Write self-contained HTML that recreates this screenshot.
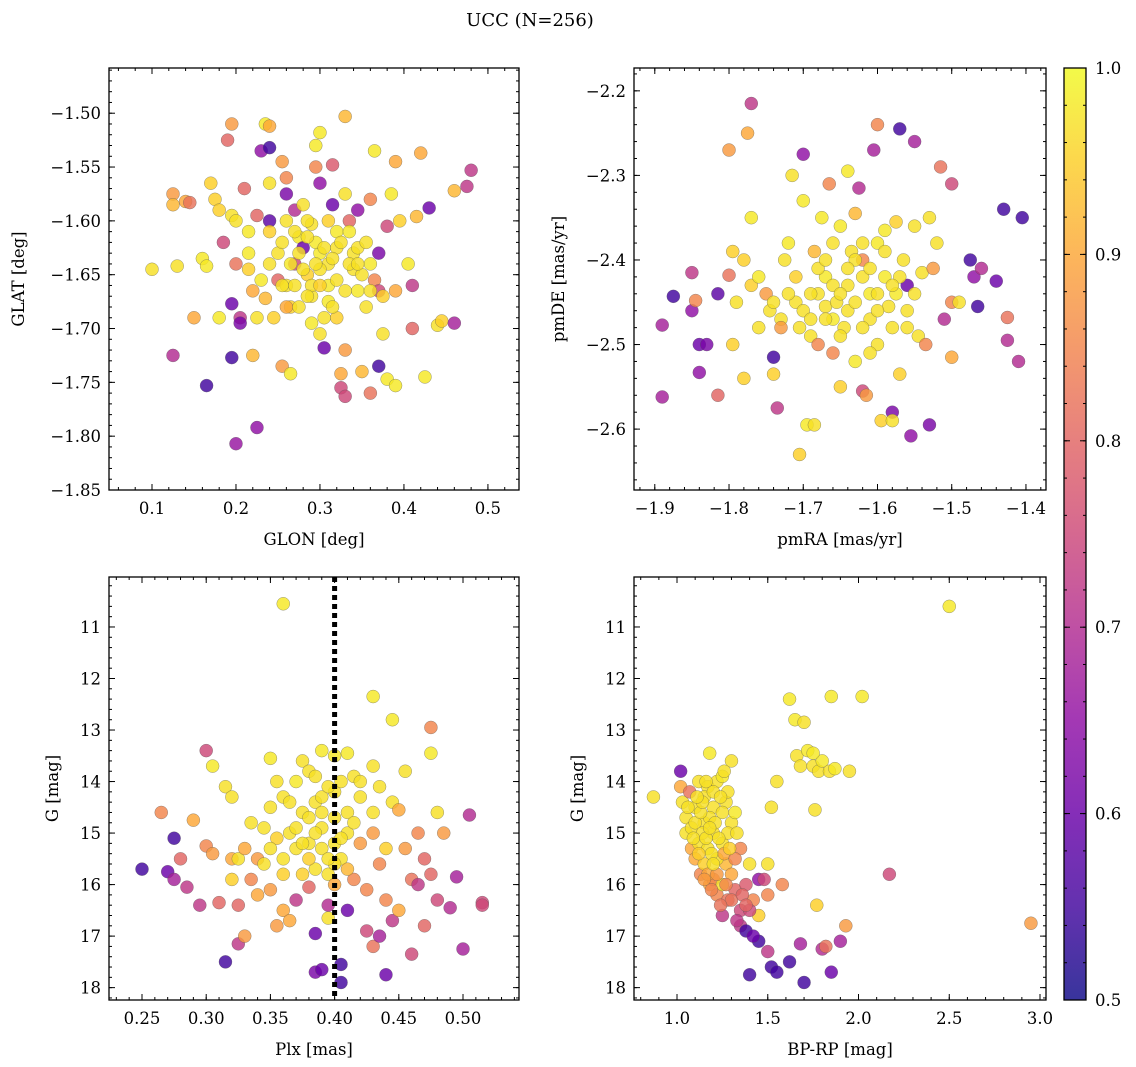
<!DOCTYPE html>
<html><head><meta charset="utf-8"><style>
html,body{margin:0;padding:0;background:#fff;}
svg{display:block;font-family:"DejaVu Serif","Liberation Serif",serif;}
</style></head><body>
<svg id="fig" width="1136" height="1067" viewBox="0 0 1136 1067" xmlns="http://www.w3.org/2000/svg">
<text x="530" y="26" font-size="18" text-anchor="middle">UCC (N=256)</text>
</svg>
<script>
// ---- data (x, y, membership probability) ----
const glonGlat = [[0.10,-1.645,.97],[0.13,-1.642,.97],[0.125,-1.575,.88],[0.125,-1.585,.92],[0.14,-1.582,.9],[0.145,-1.583,.82],[0.125,-1.725,.7],[0.15,-1.69,.9],[0.16,-1.635,.98],[0.165,-1.642,.98],[0.165,-1.753,.55],[0.17,-1.565,.95],[0.175,-1.58,.95],[0.18,-1.59,.95],[0.185,-1.62,.75],[0.18,-1.69,.98],[0.19,-1.525,.8],[0.195,-1.51,.88],[0.195,-1.595,.97],[0.195,-1.727,.55],[0.195,-1.677,.6],[0.2,-1.6,.97],[0.2,-1.64,.82],[0.2,-1.807,.66],[0.205,-1.69,.72],[0.205,-1.695,.62],[0.21,-1.57,.8],[0.215,-1.61,.98],[0.215,-1.63,.98],[0.215,-1.645,.95],[0.22,-1.725,.92],[0.22,-1.665,.9],[0.225,-1.792,.65],[0.225,-1.595,.8],[0.225,-1.69,.97],[0.23,-1.535,.65],[0.235,-1.51,.98],[0.24,-1.512,.9],[0.24,-1.532,.55],[0.24,-1.565,.97],[0.24,-1.6,.58],[0.24,-1.61,.95],[0.245,-1.69,.95],[0.25,-1.63,.97],[0.25,-1.655,.8],[0.255,-1.545,.88],[0.255,-1.735,.88],[0.26,-1.56,.85],[0.26,-1.575,.62],[0.26,-1.6,.97],[0.26,-1.66,.97],[0.265,-1.742,.98],[0.265,-1.68,.95],[0.27,-1.59,.7],[0.27,-1.64,.75],[0.275,-1.615,.98],[0.28,-1.585,.97],[0.28,-1.625,.6],[0.285,-1.65,.95],[0.29,-1.67,.97],[0.29,-1.695,.98],[0.29,-1.603,.97],[0.295,-1.55,.85],[0.295,-1.53,.98],[0.3,-1.518,.98],[0.3,-1.565,.65],[0.3,-1.63,.98],[0.3,-1.705,.97],[0.305,-1.718,.6],[0.31,-1.6,.95],[0.31,-1.64,.97],[0.31,-1.66,.98],[0.315,-1.548,.78],[0.315,-1.585,.6],[0.32,-1.61,.98],[0.32,-1.625,.97],[0.32,-1.69,.95],[0.325,-1.755,.75],[0.325,-1.742,.9],[0.33,-1.763,.75],[0.33,-1.72,.88],[0.33,-1.503,.92],[0.33,-1.575,.97],[0.335,-1.6,.8],[0.335,-1.61,.98],[0.34,-1.63,.97],[0.34,-1.645,.97],[0.345,-1.665,.98],[0.345,-1.59,.65],[0.35,-1.74,.92],[0.355,-1.68,.97],[0.36,-1.64,.98],[0.36,-1.58,.85],[0.36,-1.76,.82],[0.365,-1.535,.98],[0.365,-1.655,.85],[0.37,-1.63,.62],[0.37,-1.665,.75],[0.37,-1.735,.55],[0.375,-1.705,.97],[0.375,-1.67,.95],[0.38,-1.747,.98],[0.38,-1.605,.75],[0.385,-1.575,.98],[0.39,-1.545,.9],[0.39,-1.753,.98],[0.39,-1.665,.9],[0.395,-1.6,.95],[0.405,-1.64,.98],[0.41,-1.7,.8],[0.41,-1.66,.72],[0.415,-1.596,.92],[0.42,-1.537,.9],[0.425,-1.745,.98],[0.43,-1.588,.6],[0.44,-1.697,.97],[0.445,-1.693,.95],[0.46,-1.572,.92],[0.46,-1.695,.68],[0.475,-1.568,.72],[0.48,-1.553,.72],[0.28,-1.645,.97],[0.27,-1.66,.97],[0.29,-1.66,.97],[0.3,-1.645,.97],[0.26,-1.68,.9],[0.235,-1.672,.92],[0.31,-1.675,.98],[0.32,-1.655,.97],[0.345,-1.625,.97],[0.35,-1.65,.97],[0.265,-1.64,.98],[0.295,-1.62,.98],[0.275,-1.63,.97],[0.285,-1.615,.97],[0.295,-1.64,.97],[0.305,-1.625,.97],[0.315,-1.635,.97],[0.325,-1.62,.97],[0.335,-1.64,.97],[0.285,-1.67,.97],[0.3,-1.66,.95],[0.27,-1.61,.97],[0.255,-1.62,.97],[0.275,-1.68,.97],[0.305,-1.69,.97],[0.33,-1.665,.97],[0.355,-1.62,.97],[0.345,-1.64,.97],[0.24,-1.64,.97],[0.23,-1.655,.98],[0.285,-1.6,.97],[0.315,-1.68,.97],[0.255,-1.66,.97],[0.36,-1.665,.97]];
const pmraPmde = [[-1.89,-2.477,.68],[-1.89,-2.562,.68],[-1.875,-2.443,.55],[-1.85,-2.415,.72],[-1.85,-2.46,.65],[-1.845,-2.448,.85],[-1.84,-2.5,.6],[-1.84,-2.533,.65],[-1.83,-2.5,.62],[-1.815,-2.44,.58],[-1.815,-2.56,.8],[-1.8,-2.418,.82],[-1.8,-2.27,.88],[-1.795,-2.39,.95],[-1.795,-2.5,.95],[-1.79,-2.45,.97],[-1.78,-2.4,.95],[-1.78,-2.54,.95],[-1.775,-2.25,.9],[-1.77,-2.215,.72],[-1.77,-2.43,.95],[-1.77,-2.35,.98],[-1.76,-2.48,.97],[-1.76,-2.42,.98],[-1.75,-2.44,.88],[-1.745,-2.46,.97],[-1.74,-2.515,.55],[-1.74,-2.535,.95],[-1.735,-2.575,.72],[-1.73,-2.47,.97],[-1.73,-2.48,.88],[-1.725,-2.4,.97],[-1.72,-2.38,.98],[-1.715,-2.3,.97],[-1.71,-2.42,.95],[-1.71,-2.45,.97],[-1.705,-2.63,.95],[-1.705,-2.48,.97],[-1.7,-2.33,.98],[-1.7,-2.275,.65],[-1.695,-2.595,.98],[-1.69,-2.49,.97],[-1.685,-2.39,.92],[-1.685,-2.595,.97],[-1.68,-2.44,.97],[-1.68,-2.5,.85],[-1.675,-2.35,.98],[-1.67,-2.42,.98],[-1.67,-2.455,.97],[-1.665,-2.31,.85],[-1.66,-2.47,.98],[-1.66,-2.51,.85],[-1.655,-2.45,.97],[-1.65,-2.36,.98],[-1.65,-2.55,.95],[-1.645,-2.48,.97],[-1.64,-2.295,.98],[-1.64,-2.43,.97],[-1.635,-2.39,.97],[-1.63,-2.345,.92],[-1.63,-2.52,.98],[-1.625,-2.315,.7],[-1.62,-2.4,.85],[-1.62,-2.555,.75],[-1.615,-2.56,.88],[-1.61,-2.44,.98],[-1.61,-2.47,.97],[-1.605,-2.27,.68],[-1.6,-2.24,.85],[-1.6,-2.38,.98],[-1.6,-2.5,.97],[-1.595,-2.59,.95],[-1.59,-2.42,.98],[-1.59,-2.365,.98],[-1.585,-2.455,.97],[-1.58,-2.58,.62],[-1.58,-2.59,.97],[-1.575,-2.44,.98],[-1.575,-2.355,.95],[-1.57,-2.245,.55],[-1.57,-2.535,.95],[-1.565,-2.4,.97],[-1.56,-2.43,.6],[-1.56,-2.46,.97],[-1.555,-2.608,.65],[-1.55,-2.26,.68],[-1.55,-2.36,.97],[-1.545,-2.49,.97],[-1.54,-2.415,.97],[-1.535,-2.5,.85],[-1.53,-2.35,.97],[-1.53,-2.595,.62],[-1.525,-2.41,.88],[-1.52,-2.38,.97],[-1.515,-2.29,.82],[-1.51,-2.47,.7],[-1.5,-2.45,.85],[-1.5,-2.515,.9],[-1.5,-2.31,.75],[-1.49,-2.45,.97],[-1.475,-2.4,.55],[-1.47,-2.42,.65],[-1.465,-2.455,.55],[-1.46,-2.41,.7],[-1.44,-2.425,.6],[-1.43,-2.34,.55],[-1.425,-2.468,.82],[-1.425,-2.495,.7],[-1.41,-2.52,.7],[-1.405,-2.35,.55],[-1.63,-2.4,.97],[-1.66,-2.43,.97],[-1.69,-2.44,.97],[-1.64,-2.46,.97],[-1.62,-2.42,.97],[-1.58,-2.48,.97],[-1.6,-2.44,.97],[-1.7,-2.46,.97],[-1.67,-2.47,.97],[-1.65,-2.44,.97],[-1.63,-2.45,.97],[-1.61,-2.41,.97],[-1.59,-2.39,.97],[-1.57,-2.42,.97],[-1.55,-2.44,.97],[-1.68,-2.41,.97],[-1.66,-2.38,.97],[-1.62,-2.38,.97],[-1.6,-2.46,.97],[-1.64,-2.41,.97],[-1.72,-2.44,.97],[-1.69,-2.47,.97],[-1.62,-2.48,.97],[-1.58,-2.43,.97],[-1.56,-2.48,.97],[-1.65,-2.49,.97],[-1.61,-2.51,.97],[-1.74,-2.45,.97],[-1.67,-2.4,.97]];
const plxG = [[0.25,15.7,.55],[0.265,14.6,.85],[0.27,15.75,.6],[0.275,15.1,.55],[0.275,15.9,.68],[0.28,15.5,.8],[0.285,16.05,.72],[0.29,14.75,.9],[0.295,16.4,.72],[0.3,13.4,.75],[0.3,15.25,.85],[0.305,13.7,.98],[0.305,15.4,.88],[0.31,16.35,.8],[0.315,17.5,.55],[0.315,14.1,.97],[0.32,15.9,.95],[0.32,14.3,.97],[0.32,15.5,.9],[0.325,15.5,.97],[0.325,16.4,.8],[0.325,17.15,.72],[0.33,15.3,.9],[0.33,17.0,.88],[0.335,14.8,.97],[0.335,15.9,.85],[0.34,16.2,.9],[0.34,15.5,.88],[0.345,14.9,.97],[0.345,15.6,.97],[0.35,13.55,.98],[0.35,14.5,.97],[0.35,16.1,.88],[0.355,14.0,.97],[0.355,15.1,.95],[0.355,16.8,.88],[0.36,10.55,.98],[0.36,14.3,.97],[0.36,15.5,.97],[0.36,16.5,.9],[0.365,15.0,.97],[0.365,16.7,.9],[0.37,14.0,.98],[0.37,15.3,.97],[0.37,16.3,.72],[0.375,13.6,.97],[0.375,14.6,.97],[0.375,15.8,.95],[0.38,13.8,.97],[0.38,15.2,.97],[0.38,16.05,.8],[0.385,14.4,.97],[0.385,16.95,.6],[0.385,17.7,.62],[0.385,15.7,.97],[0.39,13.4,.98],[0.39,14.9,.97],[0.39,17.65,.6],[0.395,15.8,.97],[0.395,16.4,.7],[0.395,16.65,.97],[0.4,13.5,.98],[0.4,14.2,.97],[0.4,15.2,.97],[0.4,14.7,.97],[0.405,17.55,.55],[0.405,17.9,.55],[0.405,15.5,.97],[0.41,13.45,.98],[0.41,14.6,.97],[0.41,16.5,.6],[0.415,13.9,.97],[0.415,15.9,.85],[0.42,15.2,.88],[0.42,14.3,.97],[0.425,16.1,.85],[0.425,16.9,.75],[0.43,12.35,.98],[0.43,13.7,.97],[0.43,15.0,.88],[0.43,17.2,.82],[0.435,15.6,.85],[0.435,17.0,.68],[0.435,14.1,.97],[0.44,17.75,.6],[0.44,16.3,.85],[0.44,15.3,.95],[0.445,12.8,.98],[0.445,14.4,.97],[0.445,16.7,.72],[0.45,14.55,.9],[0.45,16.5,.9],[0.455,15.3,.88],[0.455,13.8,.97],[0.46,15.9,.82],[0.46,17.35,.75],[0.465,15.0,.85],[0.465,16.0,.72],[0.47,15.5,.8],[0.47,16.8,.8],[0.475,12.95,.85],[0.475,13.45,.98],[0.475,15.8,.8],[0.48,14.6,.97],[0.48,16.3,.75],[0.485,15.0,.88],[0.49,16.45,.7],[0.495,15.85,.68],[0.5,17.25,.68],[0.505,14.65,.7],[0.515,16.35,.75],[0.515,16.4,.75],[0.39,14.3,.97],[0.38,14.7,.97],[0.37,14.9,.97],[0.4,15.6,.97],[0.41,15.0,.97],[0.39,15.3,.97],[0.35,15.3,.97],[0.415,14.8,.97],[0.385,13.9,.97],[0.395,14.1,.97],[0.405,14.0,.97],[0.385,15.0,.97],[0.395,15.5,.97],[0.405,15.1,.97],[0.375,15.2,.97],[0.38,15.5,.95],[0.39,14.6,.97],[0.41,15.7,.92],[0.4,16.0,.9],[0.365,14.4,.97],[0.42,14.0,.97],[0.36,15.8,.95],[0.43,14.6,.97]];
const bprpG = [[0.87,14.3,.97],[1.02,13.8,.6],[1.02,14.1,.9],[1.03,14.4,.97],[1.05,14.7,.97],[1.05,15.0,.97],[1.07,14.2,.82],[1.08,15.3,.9],[1.08,14.9,.97],[1.1,15.5,.9],[1.1,14.5,.97],[1.12,15.2,.97],[1.12,14.0,.97],[1.13,15.8,.85],[1.15,14.8,.97],[1.15,15.6,.95],[1.17,14.1,.97],[1.17,15.3,.97],[1.18,13.45,.98],[1.18,16.0,.9],[1.2,14.5,.97],[1.2,15.0,.97],[1.2,15.9,.85],[1.22,14.0,.97],[1.22,16.2,.85],[1.25,13.9,.98],[1.25,15.2,.97],[1.25,16.0,.97],[1.25,16.6,.72],[1.27,14.4,.97],[1.27,15.6,.92],[1.28,16.3,.82],[1.3,14.8,.97],[1.3,15.8,.9],[1.3,13.6,.97],[1.32,16.1,.8],[1.32,14.6,.98],[1.35,15.3,.85],[1.35,16.5,.75],[1.35,16.8,.72],[1.38,16.0,.78],[1.38,16.9,.55],[1.4,17.75,.55],[1.42,16.3,.85],[1.45,16.6,.95],[1.45,17.1,.55],[1.45,15.9,.65],[1.48,15.9,.75],[1.5,17.3,.72],[1.5,16.2,.85],[1.52,17.6,.55],[1.55,17.7,.55],[1.5,15.6,.97],[1.52,14.5,.97],[1.55,14.0,.97],[1.58,16.0,.85],[1.62,12.4,.98],[1.62,17.5,.55],[1.65,12.8,.98],[1.66,13.5,.97],[1.68,13.7,.97],[1.7,12.85,.97],[1.68,17.15,.68],[1.7,17.9,.55],[1.72,13.4,.98],[1.75,13.7,.97],[1.76,14.55,.97],[1.77,16.4,.95],[1.78,13.8,.97],[1.8,17.25,.7],[1.8,13.6,.98],[1.82,17.2,.82],[1.84,13.8,.97],[1.85,12.35,.98],[1.85,17.7,.6],[1.75,13.45,.98],[1.87,13.75,.98],[1.9,17.1,.68],[1.93,16.8,.88],[1.95,13.8,.97],[2.02,12.35,.98],[2.17,15.8,.75],[2.5,10.6,.98],[2.95,16.75,.88],[1.15,14.3,.97],[1.1,14.8,.97],[1.18,14.7,.97],[1.22,15.5,.97],[1.28,15.0,.97],[1.14,15.0,.97],[1.26,15.4,.9],[1.2,14.2,.97],[1.25,14.6,.97],[1.32,15.5,.85],[1.4,15.6,.97],[1.09,15.1,.97],[1.13,14.6,.97],[1.16,15.1,.97],[1.19,15.4,.97],[1.21,14.8,.97],[1.23,15.1,.97],[1.14,14.4,.97],[1.12,15.4,.95],[1.17,15.8,.9],[1.22,15.8,.88],[1.27,16.0,.85],[1.3,16.3,.82],[1.24,16.4,.82],[1.19,16.1,.85],[1.15,15.9,.88],[1.28,14.2,.97],[1.18,14.9,.97],[1.11,14.3,.97],[1.24,14.3,.97],[1.29,15.3,.95],[1.33,15.0,.97],[1.06,14.5,.97],[1.2,15.6,.97],[1.36,16.2,.8],[1.4,16.5,.75],[1.42,17.0,.6],[1.33,16.7,.72],[1.38,16.4,.8],[1.16,14.0,.97],[1.26,13.8,.97]];
const p1XTicks = [0.1,0.2,0.3,0.4,0.5];
const p1YTicks = [-1.50,-1.55,-1.60,-1.65,-1.70,-1.75,-1.80,-1.85];
const p2XTicks = [-1.9,-1.8,-1.7,-1.6,-1.5,-1.4];
const p2YTicks = [-2.2,-2.3,-2.4,-2.5,-2.6];
const p3XTicks = [0.25,0.30,0.35,0.40,0.45,0.50];
const gTicks = [11,12,13,14,15,16,17,18];
const p4XTicks = [1.0,1.5,2.0,2.5,3.0];
const cbTicks = [0.5,0.6,0.7,0.8,0.9,1.0];
const plxLine = 0.40;

const NS='http://www.w3.org/2000/svg';
const svg=document.getElementById('fig');
function mk(tag,attrs,parent){const e=document.createElementNS(NS,tag);for(const k in attrs)e.setAttribute(k,attrs[k]);(parent||svg).appendChild(e);return e;}
const stops=['#0d0887','#41049d','#6a00a8','#8f0da4','#b12a90','#cc4778','#e16462','#f2844b','#fca636','#fcce25','#f0f921'];
function hx(h){return [1,3,5].map(i=>parseInt(h.substr(i,2),16));}
function plasma(t){t=Math.max(0,Math.min(1,t));const f=t*10,i=Math.min(9,Math.floor(f)),u=f-i;const a=hx(stops[i]),b=hx(stops[i+1]);return 'rgb('+a.map((v,k)=>Math.round(v+(b[k]-v)*u)).join(',')+')';}
function col(p){return plasma((p-0.5)/0.5);}
const FS=16.5;

function panel(cfg){
  const {name,x0,y0,w,h,xmin,xmax,ymin,ymax,invY,xt,yt,xminor,yminor,xlab,ylab,data,fmtX,fmtY}=cfg;
  const g=mk('g',{});
  
  
  const sx=v=>x0+(v-xmin)/(xmax-xmin)*w;
  const sy=v=>invY? y0+(v-ymin)/(ymax-ymin)*h : y0+h-(v-ymin)/(ymax-ymin)*h;
  const pts=mk('g',{},g);
  
  
  data.forEach(d=>{
    const c=mk('circle',{cx:sx(d[0]),cy:sy(d[1]),r:6.5,fill:col(d[2]),'fill-opacity':0.82,stroke:'#555','stroke-width':0.5,'stroke-opacity':0.6},pts);
    
    
  });
  if(cfg.vline!==undefined){
    const l=mk('line',{x1:sx(cfg.vline),x2:sx(cfg.vline),y1:y0,y2:y0+h,stroke:'#000','stroke-width':5,'stroke-dasharray':'5,4'},g);
    
    
  }
  mk('rect',{x:x0,y:y0,width:w,height:h,fill:'none',stroke:'#000','stroke-width':1.3},g);
  for(let v=Math.ceil(xmin/xminor-1e-6)*xminor;v<=xmax+1e-9;v+=xminor){const X=sx(v);mk('line',{x1:X,x2:X,y1:y0+h,y2:y0+h-3,stroke:'#000'},g);mk('line',{x1:X,x2:X,y1:y0,y2:y0+3,stroke:'#000'},g);}
  const ylo=Math.min(ymin,ymax),yhi=Math.max(ymin,ymax);
  for(let v=Math.ceil(ylo/yminor-1e-6)*yminor;v<=yhi+1e-9;v+=yminor){const Y=sy(v);mk('line',{x1:x0,x2:x0+3,y1:Y,y2:Y,stroke:'#000'},g);mk('line',{x1:x0+w,x2:x0+w-3,y1:Y,y2:Y,stroke:'#000'},g);}
  xt.forEach(v=>{const X=sx(v);mk('line',{x1:X,x2:X,y1:y0+h,y2:y0+h-6,stroke:'#000'},g);mk('line',{x1:X,x2:X,y1:y0,y2:y0+6,stroke:'#000'},g);
    const t=mk('text',{x:X,y:y0+h+24,'font-size':FS,'text-anchor':'middle'},g);t.textContent=fmtX(v);
    });
  yt.forEach(v=>{const Y=sy(v);mk('line',{x1:x0,x2:x0+6,y1:Y,y2:Y,stroke:'#000'},g);mk('line',{x1:x0+w,x2:x0+w-6,y1:Y,y2:Y,stroke:'#000'},g);
    const t=mk('text',{x:x0-8,y:Y+6,'font-size':FS,'text-anchor':'end'},g);t.textContent=fmtY(v);
    });
  const xl=mk('text',{x:x0+w/2,y:y0+h+55,'font-size':FS,'text-anchor':'middle'},g);xl.textContent=xlab;
  
  const yl=mk('text',{x:0,y:0,'font-size':FS,'text-anchor':'middle',transform:'translate('+cfg.ylx+','+(y0+h/2)+') rotate(-90)'},g);yl.textContent=ylab;
  
}
const mn=v=>(v<0?'\u2212':'')+Math.abs(v);
panel({name:'glon-glat-panel',x0:109,y0:68,w:410,h:422,xmin:0.0488,xmax:0.537,ymin:-1.85,ymax:-1.458,xt:p1XTicks,yt:p1YTicks,xminor:0.02,yminor:0.01,xlab:'GLON [deg]',ylab:'GLAT [deg]',ylx:24,data:glonGlat,fmtX:v=>v.toFixed(1),fmtY:v=>mn(+v.toFixed(2)).replace(/(\.\d)$/,'$10')});
panel({name:'proper-motion-panel',x0:634,y0:68,w:412,h:422,xmin:-1.928,xmax:-1.373,ymin:-2.672,ymax:-2.173,xt:p2XTicks,yt:p2YTicks,xminor:0.02,yminor:0.02,xlab:'pmRA [mas/yr]',ylab:'pmDE [mas/yr]',ylx:564,data:pmraPmde,fmtX:v=>mn(+v.toFixed(1)),fmtY:v=>mn(+v.toFixed(1))});
panel({name:'parallax-magnitude-panel',x0:109,y0:577,w:410,h:423,xmin:0.2243,xmax:0.5436,ymin:10.03,ymax:18.24,invY:true,xt:p3XTicks,yt:gTicks,xminor:0.01,yminor:0.2,xlab:'Plx [mas]',ylab:'G [mag]',ylx:58,data:plxG,vline:plxLine,fmtX:v=>v.toFixed(2),fmtY:v=>String(v)});
panel({name:'color-magnitude-panel',x0:634,y0:577,w:412,h:423,xmin:0.763,xmax:3.033,ymin:10.03,ymax:18.24,invY:true,xt:p4XTicks,yt:gTicks,xminor:0.1,yminor:0.2,xlab:'BP-RP [mag]',ylab:'G [mag]',ylx:583,data:bprpG,fmtX:v=>v.toFixed(1),fmtY:v=>String(v)});

const cb=mk('g',{});


const defs=mk('defs',{},svg);
const lg=mk('linearGradient',{id:'cbg',x1:0,y1:1,x2:0,y2:0},defs);
for(let i=0;i<=20;i++){const c=col(0.5+i*0.025);mk('stop',{offset:i/20,'stop-color':c,'stop-opacity':0.82},lg);}
const cbx=1064,cby=68,cbw=22,cbh=932;
mk('rect',{x:cbx,y:cby,width:cbw,height:cbh,fill:'url(#cbg)',stroke:'#000','stroke-width':1.3},cb);
const cy=v=>cby+cbh-(v-0.5)/0.5*cbh;
for(let v=0.5;v<=1.0001;v+=0.02){mk('line',{x1:cbx+cbw,x2:cbx+cbw-3,y1:cy(v),y2:cy(v),stroke:'#000'},cb);mk('line',{x1:cbx,x2:cbx+3,y1:cy(v),y2:cy(v),stroke:'#000'},cb);}
cbTicks.forEach(v=>{mk('line',{x1:cbx+cbw,x2:cbx+cbw-6,y1:cy(v),y2:cy(v),stroke:'#000'},cb);mk('line',{x1:cbx,x2:cbx+6,y1:cy(v),y2:cy(v),stroke:'#000'},cb);
  const t=mk('text',{x:cbx+cbw+9,y:cy(v)+6,'font-size':FS},cb);t.textContent=v.toFixed(1);
  });
</script>
</body></html>
